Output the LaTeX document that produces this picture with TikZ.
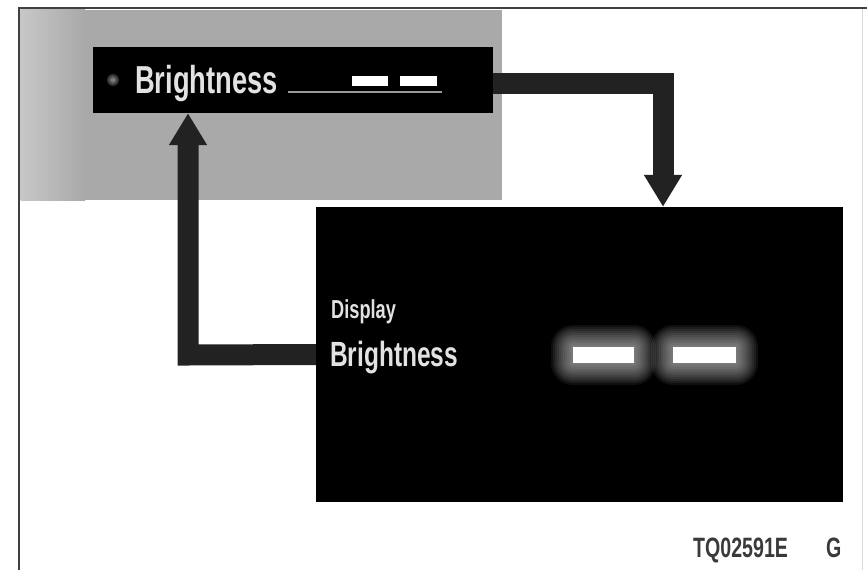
\documentclass[tikz,border=0pt]{standalone}
\usepackage{fontspec}
\newfontfamily\condfont[FakeStretch=0.7]{Liberation Sans}
\usetikzlibrary{arrows.meta}
\definecolor{panelgray}{HTML}{A9A9A9}
\definecolor{arrowdark}{HTML}{222222}
\definecolor{lcdtext}{HTML}{E2E2E2}
\definecolor{codegray}{HTML}{3A3A3A}
\tikzset{
  flowarrow/.style={draw=arrowdark, line width=21pt, line join=miter,
    -{Triangle[width=36pt,length=32pt]}},
  lcdbox/.style={fill=black, inner sep=0pt},
  lcdlabel/.style={text=lcdtext, inner sep=0pt, anchor=base west},
}
\begin{document}
\begin{tikzpicture}[x=1pt,y=-1pt]
\useasboundingbox (0,0) rectangle (867,570);

% Frame
\draw[white!85!black, line width=1pt] (862,8) -- (862,570);
\draw[black!75, line width=2.5pt] (19,570) -- (19,8) -- (867,8);

% Gray panel behind the menu bar
\fill[panelgray] (20.5,9.5) rectangle (502,200);
\shade[left color=white!35!panelgray, middle color=white!60!panelgray, right color=panelgray]
  (20.5,9.5) rectangle (85,200);

% Menu bar
\node (topbar) [lcdbox, minimum width=400pt, minimum height=66pt] at (293,80) {};
\foreach \halo in {6,4,2}
  \fill[white, opacity=0.2] (113,80) circle (\halo pt);
\node (toptext) [lcdlabel, font=\condfont\bfseries\fontsize{39}{39}\selectfont] at (135,93) {Brightness};
\draw[white!60!black, line width=1.5pt] (288,92) -- (442,92);
\fill[white] (352,76) rectangle (388,86);
\fill[white] (400,76) rectangle (437,86);

% Screen
\node (screen) [lcdbox, minimum width=527pt, minimum height=295pt] at (579.5,354.5) {};
\node (disptext) [lcdlabel, font=\condfont\bfseries\fontsize{26}{26}\selectfont] at (331,318) {Display};
\node (brtext) [lcdlabel, font=\condfont\bfseries\fontsize{35}{35}\selectfont] at (330,366) {Brightness};
\foreach \halo in {22,20,...,2} {
  \fill[white, opacity=0.06, rounded corners=\halo pt] (573-\halo,347-\halo) rectangle (634+\halo,363+\halo);
  \fill[white, opacity=0.06, rounded corners=\halo pt] (673-\halo,347-\halo) rectangle (736+\halo,363+\halo);
}
\fill[white] (573,347) rectangle (634,363);
\fill[white] (673,347) rectangle (736,363);

% Arrows
\coordinate (turnR) at (663,83);
\coordinate (turnL) at (188,355);
\draw[flowarrow] (topbar.east |- turnR) -- (turnR) -- (turnR |- screen.north);
\draw[flowarrow] (screen.west) -- (turnL) -- (turnL |- topbar.south);

% Code
\node (code) [text=codegray, inner sep=0pt, anchor=base west, font=\condfont\bfseries\fontsize{28}{28}\selectfont] at (693,557) {TQ02591E};
\node (rev) [text=codegray, inner sep=0pt, anchor=base west, font=\condfont\bfseries\fontsize{28}{28}\selectfont] at (826,557) {G};
\end{tikzpicture}
\end{document}
